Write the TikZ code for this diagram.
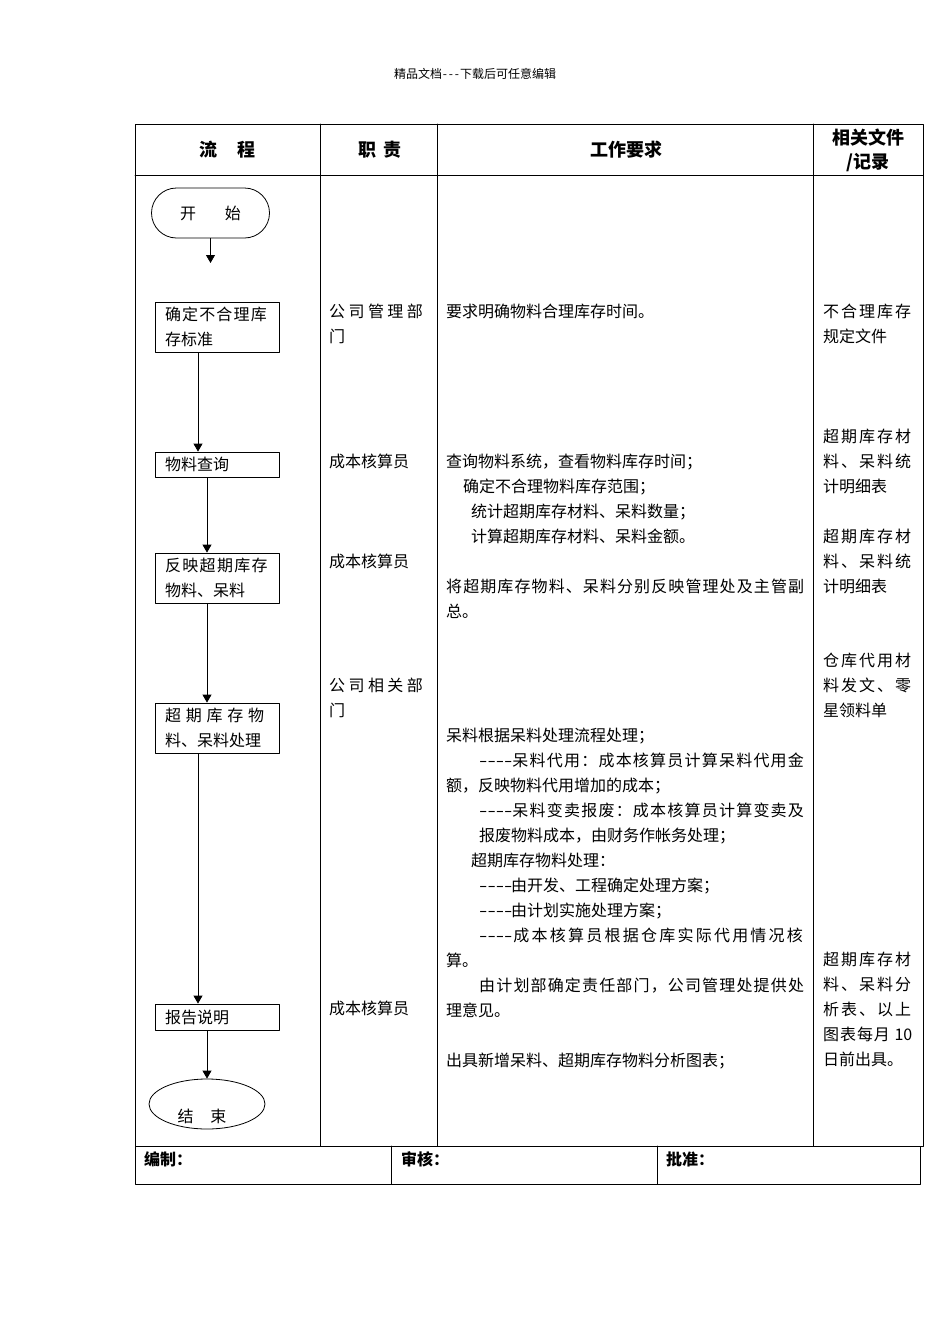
\documentclass[tikz,border=0pt]{standalone}
\usepackage{graphicx}
\usepackage{fontspec}
\setmainfont{Noto Sans CJK SC}
\usetikzlibrary{arrows.meta,shapes.geometric}

\makeatletter
\newcommand\spreadtext[2]{\makebox[#1][l]{\@tfor\sptok:=#2\do{\sptok\hfil}\unskip}}
\makeatother
\newcommand\onedash{\scalebox{1.5}[1]{-}}
\newcommand\dashes{\makebox[32pt][s]{\onedash\hfil\onedash\hfil\onedash\hfil\onedash}}
\newcommand\hdrdash{\makebox[6pt]{-}}

\begin{document}
\begin{tikzpicture}[
  x=1pt,
  y=-1pt,
  line cap=round,
  line join=round,
  font=\fontsize{16pt}{25pt}\selectfont,
  rule/.style={draw=black,line width=0.8pt},
  head text/.style={font=\fontsize{18pt}{24pt}\selectfont\bfseries,inner sep=0pt,align=center},
  foot text/.style={font=\fontsize{16pt}{20pt}\selectfont\bfseries,inner sep=0pt,anchor=west},
  % multi-line cells: base sits on the last line
  cell text/.style={inner sep=0pt,anchor=base west,align=left},
  stepbox/.style={
    draw=black,
    line width=0.8pt,
    minimum width=124pt,
    minimum height=#1,
    inner xsep=10pt,
    inner ysep=0pt,
    text width=104pt,
    align=left
  },
  terminal/.style={draw=black,line width=0.8pt,rounded corners=25pt,
    minimum width=118pt,minimum height=50pt,inner sep=0pt},
  endshape/.style={draw=black,line width=0.8pt,ellipse,
    minimum width=116pt,minimum height=50pt,inner sep=0pt},
  flow arrow/.style={
    draw=black,
    line width=0.8pt,
    -{Triangle[length=8pt,width=9pt]}
  }
]
  \path[use as bounding box] (0,0) rectangle (950,1344);

  \node[font=\fontsize{12pt}{14pt}\selectfont,inner sep=0pt] (pagehead) at (475,74)
    {精品文档\hdrdash\hdrdash\hdrdash 下载后可任意编辑};

  % table frame: header row, four columns, sign-off row
  \draw[rule] (135,124) rectangle (923,1146);
  \draw[rule] (135,175) -- (923,175);
  \foreach \colX in {320,437,813}{
    \draw[rule] (\colX,124) -- (\colX,1146);
  }
  \draw[rule] (135,1146) rectangle (920,1184);
  \foreach \colX in {391,657}{
    \draw[rule] (\colX,1146) -- (\colX,1184);
  }

  \node[head text] (hflow) at (227,150) {流\hspace{20pt}程};
  \node[head text] (hduty) at (380,150) {职\hspace{8pt}责};
  \node[head text] (hreq) at (626,150) {工作要求};
  \node[head text] (hdoc) at (868,150) {相关文件\\/记录};

  % flow column
  \node[terminal] (start) at (210.5,213) {开\hspace{29pt}始\hspace{10pt}};
  \coordinate (startend) at (210.5,263);
  \node[stepbox=50pt] (box1) at (217,327) {\spreadtext{103pt}{确定不合理库}\\存标准};
  \node[stepbox=25pt] (box2) at (217,464.5) {物料查询};
  \node[stepbox=50pt] (box3) at (217,578) {\spreadtext{104pt}{反映超期库存}\\物料、呆料};
  \node[stepbox=50pt] (box4) at (217,728) {\spreadtext{104pt}{超期库存物}\\料、呆料处理};
  \node[stepbox=26pt] (box5) at (217,1017) {报告说明};
  \node[endshape] (end) at (207,1104) {};
  \node[inner sep=0pt] (endtext) at (202,1116) {结\hspace{17pt}束};

  \draw[flow arrow] (start.south) -- (startend);
  \draw[flow arrow] ([xshift=-19pt]box1.south) -- ([xshift=-19pt]box1.south |- box2.north);
  \draw[flow arrow] ([xshift=-10pt]box2.south) -- ([xshift=-10pt]box2.south |- box3.north);
  \draw[flow arrow] ([xshift=-10pt]box3.south) -- ([xshift=-10pt]box3.south |- box4.north);
  \draw[flow arrow] ([xshift=-19pt]box4.south) -- ([xshift=-19pt]box4.south |- box5.north);
  \draw[flow arrow] ([xshift=-10pt]box5.south) -- (end.north);

  % duty column
  \node[cell text] (duty1) at (329,342) {\spreadtext{97pt}{公司管理部}\\门};
  \node[cell text] (duty2) at (329,467) {成本核算员};
  \node[cell text] (duty3) at (329,567) {成本核算员};
  \node[cell text] (duty4) at (329,716) {\spreadtext{97pt}{公司相关部}\\门};
  \node[cell text] (duty5) at (329,1014) {成本核算员};

  % requirement column
  \node[cell text] (req1) at (446,317) {要求明确物料合理库存时间。};
  \node[cell text] (req2) at (446,542) {查询物料系统，查看物料库存时间；\\
    \hspace*{17pt}确定不合理物料库存范围；\\
    \hspace*{25pt}统计超期库存材料、呆料数量；\\
    \hspace*{25pt}计算超期库存材料、呆料金额。};
  \node[cell text] (req3) at (446,617)
    {\spreadtext{359pt}{将超期库存物料、呆料分别反映管理处及主管副}\\总。};
  \node[cell text] (req4) at (446,1066) {呆料根据呆料处理流程处理；\\
    \hspace*{33pt}\spreadtext{326pt}{{\dashes}呆料代用：成本核算员计算呆料代用金}\\
    额，反映物料代用增加的成本；\\
    \hspace*{33pt}\spreadtext{326pt}{{\dashes}呆料变卖报废：成本核算员计算变卖及}\\
    \hspace*{33pt}报废物料成本，由财务作帐务处理；\\
    \hspace*{25pt}超期库存物料处理：\\
    \hspace*{33pt}\dashes 由开发、工程确定处理方案；\\
    \hspace*{33pt}\dashes 由计划实施处理方案；\\
    \hspace*{33pt}\spreadtext{326pt}{{\dashes}成本核算员根据仓库实际代用情况核}\\
    算。\\
    \hspace*{33pt}\spreadtext{326pt}{由计划部确定责任部门，公司管理处提供处}\\
    理意见。\\[25pt]
    出具新增呆料、超期库存物料分析图表；};

  % record column
  \node[cell text] (doc1) at (823,342) {\spreadtext{90pt}{不合理库存}\\规定文件};
  \node[cell text] (doc2) at (823,492)
    {\spreadtext{90pt}{超期库存材}\\\spreadtext{90pt}{料、呆料统}\\计明细表};
  \node[cell text] (doc3) at (823,592)
    {\spreadtext{90pt}{超期库存材}\\\spreadtext{90pt}{料、呆料统}\\计明细表};
  \node[cell text] (doc4) at (823,716)
    {\spreadtext{90pt}{仓库代用材}\\\spreadtext{90pt}{料发文、零}\\星领料单};
  \node[cell text] (doc5) at (823,1065)
    {\spreadtext{90pt}{超期库存材}\\\spreadtext{90pt}{料、呆料分}\\\spreadtext{90pt}{析表、以上}\\
     \spreadtext{90pt}{图表每月{\ 10}}\\日前出具。};

  % sign-off row
  \node[foot text] (fmake) at (144,1159) {编制：};
  \node[foot text] (fcheck) at (401,1159) {审核：};
  \node[foot text] (fapprove) at (666,1159) {批准：};
\end{tikzpicture}
\end{document}
